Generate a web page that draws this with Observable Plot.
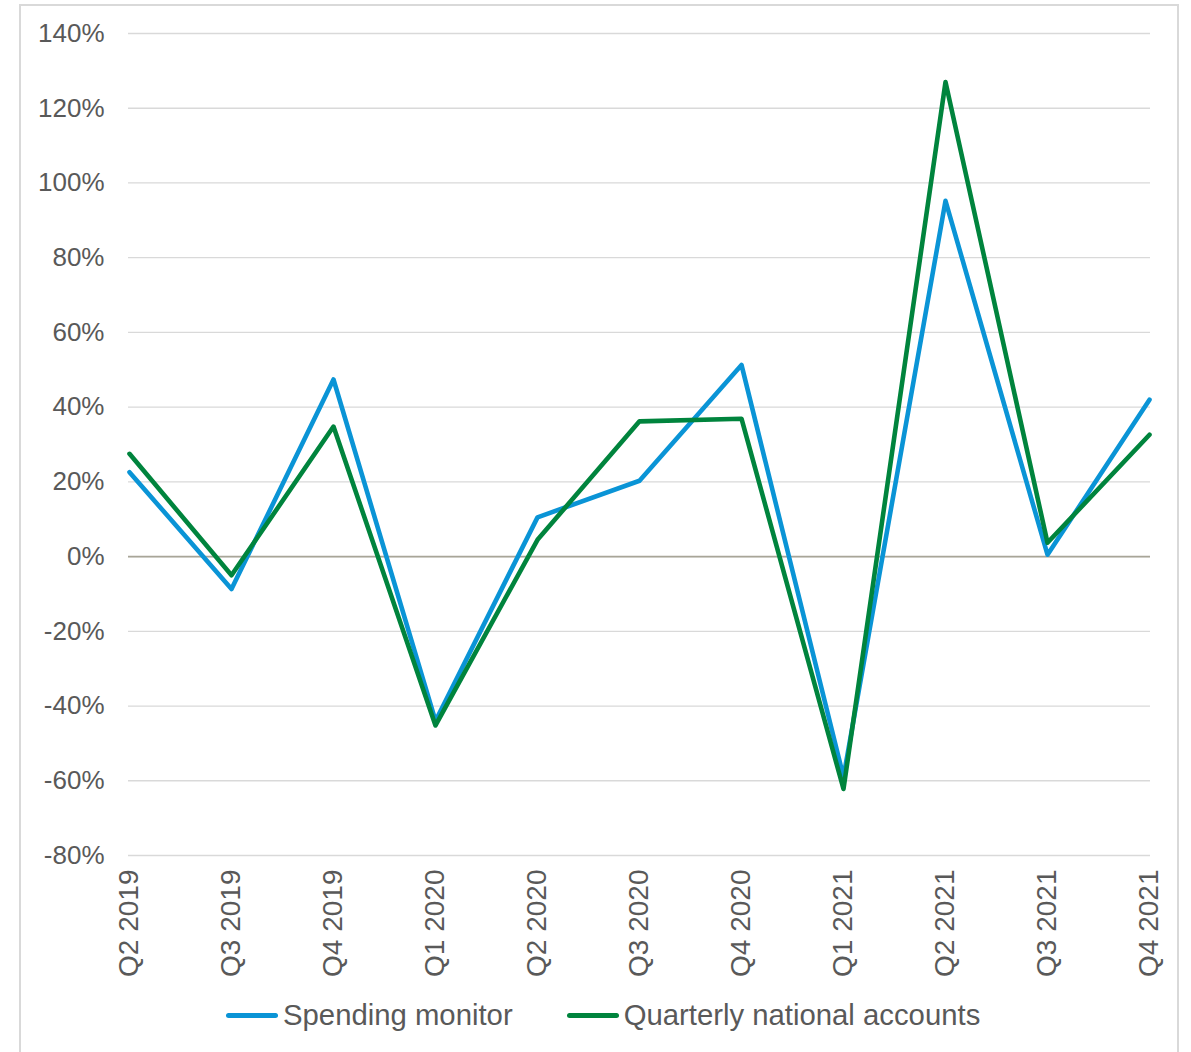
<!DOCTYPE html>
<html>
<head>
<meta charset="utf-8">
<script src="https://cdn.jsdelivr.net/npm/d3@7"></script>
<script src="https://cdn.jsdelivr.net/npm/@observablehq/plot@0.6"></script>
<style>
  html, body { margin: 0; padding: 0; background: #fff; }
  body { width: 1191px; height: 1052px; position: relative; overflow: hidden;
         font-family: "Liberation Sans", Arial, sans-serif; color: #595959; }
  #frame { position: absolute; left: 19px; top: 4px; width: 1160px; height: 1100px;
           border: 2px solid #d9d9d9; box-sizing: border-box; }
  #chart { position: absolute; left: 0; top: 0; }
  #legend { position: absolute; left: 226px; top: 998px; display: flex; align-items: center;
            font-size: 29.3px; color: #595959; white-space: nowrap; }
  .item { display: flex; align-items: center; }
  .swatch { width: 52px; height: 5px; border-radius: 3px; margin-right: 5px; }
</style>
</head>
<body>
<div id="frame"></div>
<div id="chart"></div>
<div id="legend"></div>
<script>
// Quarterly growth (annualised, %) from two sources
const quarters = ["Q2 2019", "Q3 2019", "Q4 2019", "Q1 2020", "Q2 2020", "Q3 2020",
                  "Q4 2020", "Q1 2021", "Q2 2021", "Q3 2021", "Q4 2021"];
const spendingMonitor = [22.6, -8.7, 47.4, -44.0, 10.5, 20.3, 51.3, -59.0, 95.2, 0.5, 42.0];
const nationalAccounts = [27.5, -5.0, 34.8, -45.2, 4.5, 36.2, 36.9, -62.2, 127.0, 3.7, 32.6];
const yTicks = [-80, -60, -40, -20, 0, 20, 40, 60, 80, 100, 120, 140];

const seriesNames = ["Spending monitor", "Quarterly national accounts"];
const seriesColors = ["#0a94d6", "#00843d"];

const rows = [
  ...quarters.map((q, i) => ({quarter: q, value: spendingMonitor[i], series: seriesNames[0]})),
  ...quarters.map((q, i) => ({quarter: q, value: nationalAccounts[i], series: seriesNames[1]}))
];

const chart = Plot.plot({
  width: 1191,
  height: 990,
  marginLeft: 128,
  marginRight: 41,
  marginTop: 33,
  marginBottom: 135,
  style: {fontFamily: '"Liberation Sans", Arial, sans-serif', color: "#595959", background: "transparent"},
  x: {type: "point", domain: quarters, padding: 0},
  y: {domain: [-80, 140]},
  color: {domain: seriesNames, range: seriesColors},
  marks: [
    Plot.gridY(yTicks, {stroke: "#d9d9d9", strokeOpacity: 1, strokeWidth: 1.3}),
    Plot.ruleY([0], {stroke: "#a8a598", strokeWidth: 1.6}),
    Plot.axisY(yTicks, {tickSize: 0, tickPadding: 24, fontSize: 26, fill: "#595959",
                        tickFormat: d => d + "%", label: null}),
    Plot.axisX({tickSize: 0, tickPadding: 14, tickRotate: -90, fontSize: 28, fill: "#595959", label: null}),
    Plot.line(rows, {x: "quarter", y: "value", z: "series", stroke: "series",
                     strokeWidth: 4.6, strokeLinejoin: "round", strokeLinecap: "round"})
  ]
});
document.getElementById("chart").appendChild(chart);

// Legend below the plot
const legend = document.getElementById("legend");
seriesNames.forEach((name, i) => {
  const item = document.createElement("div");
  item.className = "item";
  if (i > 0) item.style.marginLeft = "54px";
  const sw = document.createElement("div");
  sw.className = "swatch";
  sw.style.background = seriesColors[i];
  const label = document.createElement("span");
  label.textContent = name;
  item.appendChild(sw);
  item.appendChild(label);
  legend.appendChild(item);
});
</script>
</body>
</html>
